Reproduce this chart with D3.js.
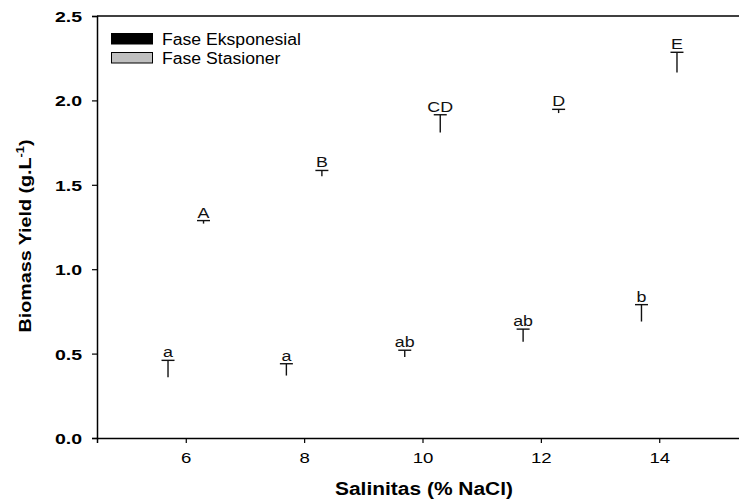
<!DOCTYPE html>
<html>
<head>
<meta charset="utf-8">
<script src="https://cdn.jsdelivr.net/npm/d3@7"></script>
<style>
  html, body { margin: 0; padding: 0; background: #fff; }
  svg { display: block; font-family: "Liberation Sans", Arial, sans-serif; }
</style>
</head>
<body>
<script>
// Salinity treatments (% NaCl)
const salinity = [6, 8, 10, 12, 14];
// Exponential phase biomass (g/L) and standard errors
const eksMean = [0.36, 0.37, 0.48, 0.57, 0.69];
const eksErr  = [0.10, 0.07, 0.04, 0.075, 0.10];
// Stationary phase biomass (g/L) and standard errors
const staMean = [1.27, 1.55, 1.81, 1.925, 2.165];
const staErr  = [0.018, 0.035, 0.105, 0.022, 0.12];
// Significance letters
const eksLetters = ["a", "a", "ab", "ab", "b"];
const staLetters = ["A", "B", "CD", "D", "E"];
// Axis ticks
const yTicks = [0, 0.5, 1.0, 1.5, 2.0, 2.5];
const xTicks = [6, 8, 10, 12, 14];
const seriesNames = ["Fase Eksponesial", "Fase Stasioner"];
const seriesFill = ["#000000", "#c0c0c0"];

const W = 739, H = 504;
const mLeft = 97, mTop = 16, mBottom = 438, mRight = 748;
const svg = d3.select("body").append("svg").attr("width", W).attr("height", H);

const x = d3.scaleLinear().domain([4.5, 15.5]).range([mLeft, mRight]);
const y = d3.scaleLinear().domain([0, 2.5]).range([mBottom, mTop]);

// widen glyphs horizontally by a factor
function stretch(sel, k) {
  sel.each(function () {
    const len = this.getComputedTextLength();
    d3.select(this).attr("textLength", len * k).attr("lengthAdjust", "spacingAndGlyphs");
  });
}

// frame: top line
svg.append("line").attr("x1", mLeft).attr("x2", mRight).attr("y1", mTop).attr("y2", mTop)
  .attr("stroke", "#000").attr("stroke-width", 1.5);

// y axis
const yAxis = svg.append("g").attr("transform", `translate(${mLeft},0)`)
  .call(d3.axisLeft(y).tickValues(yTicks).tickFormat(d3.format(".1f")).tickSize(5).tickPadding(10));
yAxis.select(".domain").attr("stroke-width", 1.5);
yAxis.selectAll(".tick line").attr("stroke-width", 1.2);
yAxis.selectAll("text").attr("font-size", 15).attr("font-weight", "bold").attr("fill", "#000")
  .attr("font-family", "Liberation Sans, Arial, sans-serif").attr("dy", "0.36em")
  .call(stretch, 1.3);

// x axis
const xAxis = svg.append("g").attr("transform", `translate(0,${mBottom})`)
  .call(d3.axisBottom(x).tickValues(xTicks).tickSize(5).tickPadding(9));
xAxis.select(".domain").attr("stroke-width", 1.5);
xAxis.selectAll(".tick line").attr("stroke-width", 1.2);
xAxis.selectAll("text").attr("font-size", 15.5).attr("fill", "#000")
  .attr("font-family", "Liberation Sans, Arial, sans-serif")
  .call(stretch, 1.2);

// error bars and letters for both phases
const groups = [
  { mean: eksMean, err: eksErr, letters: eksLetters, dx: -0.3 },
  { mean: staMean, err: staErr, letters: staLetters, dx: 0.3 }
];
const capHalf = 6.5;
groups.forEach(g => {
  const rows = salinity.map((s, i) => ({ s, m: g.mean[i], e: g.err[i], t: g.letters[i] }));
  const eb = svg.append("g").attr("stroke", "#111").attr("stroke-width", 1.4);
  eb.selectAll(".stem").data(rows).join("line")
    .attr("x1", d => x(d.s + g.dx)).attr("x2", d => x(d.s + g.dx))
    .attr("y1", d => y(d.m)).attr("y2", d => y(d.m + d.e));
  eb.selectAll(".cap").data(rows).join("line")
    .attr("x1", d => x(d.s + g.dx) - capHalf).attr("x2", d => x(d.s + g.dx) + capHalf)
    .attr("y1", d => y(d.m + d.e)).attr("y2", d => y(d.m + d.e));
  svg.append("g").selectAll("text").data(rows).join("text")
    .attr("x", d => x(d.s + g.dx)).attr("y", d => y(d.m + d.e) - 3)
    .attr("text-anchor", "middle").attr("font-size", 15.5).attr("fill", "#111")
    .text(d => d.t)
    .call(stretch, 1.15);
});

// legend
const lg = svg.append("g");
seriesNames.forEach((name, i) => {
  lg.append("rect").attr("x", 111.5).attr("y", 33.5 + i * 19).attr("width", 41).attr("height", 10.5)
    .attr("fill", seriesFill[i]).attr("stroke", "#000").attr("stroke-width", 1);
  lg.append("text").attr("x", 162).attr("y", 45 + i * 19).attr("font-size", 16).attr("fill", "#000")
    .text(name).call(stretch, 1.1);
});

// axis titles
svg.append("text").attr("x", 424).attr("y", 495).attr("text-anchor", "middle")
  .attr("font-size", 18).attr("font-weight", "bold").attr("fill", "#000")
  .attr("textLength", 178).attr("lengthAdjust", "spacingAndGlyphs")
  .text("Salinitas (% NaCl)");

const yt = svg.append("text").attr("transform", "translate(31,236) rotate(-90)")
  .attr("text-anchor", "middle").attr("font-size", 17).attr("font-weight", "bold").attr("fill", "#000");
yt.append("tspan").text("Biomass Yield (g.L");
yt.append("tspan").attr("font-size", 11).attr("dy", -7).text("-1");
yt.append("tspan").attr("dy", 7).text(")");
yt.attr("textLength", 193).attr("lengthAdjust", "spacingAndGlyphs");
</script>
</body>
</html>
